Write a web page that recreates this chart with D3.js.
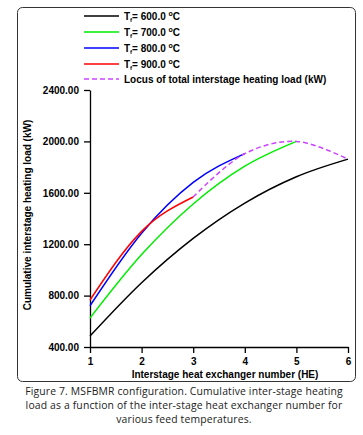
<!DOCTYPE html>
<html>
<head>
<meta charset="utf-8">
<script src="https://cdn.jsdelivr.net/npm/d3@7"></script>
<style>
  body { margin: 0; background: #fff; }
  svg text { font-family: "Liberation Sans", Arial, sans-serif; }
  .tick text { font-weight: bold; font-size: 10px; }
  .caption { font-family: "Open Sans", "Noto Sans", sans-serif; font-size: 10.4px; letter-spacing: 0.15px; fill: #222; }
</style>
</head>
<body>
<svg id="chart" width="363" height="435"></svg>
<script>
// HE numbers on the x axis
const heNumbers = [1, 2, 3, 4, 5, 6];

// Cumulative interstage heating load (kW) for each feed temperature
const load600 = [485, 900, 1245, 1520, 1725, 1862];
const load700 = [625, 1119, 1513, 1807, 2000];
const load800 = [721, 1286, 1681, 1905];
const load900 = [766, 1300, 1567];

// Locus of total load (end point of each series)
const locusHE = [3, 4, 5, 6];
const locusLoad = [1567, 1905, 2000, 1862];

const yTicks = [400, 800, 1200, 1600, 2000, 2400];
const seriesNames = ["600.0", "700.0", "800.0", "900.0"];
const seriesColors = ["#000000", "#00ee00", "#0000ff", "#ff0000"];
const locusColor = "#cc44ff";
const locusName = "Locus of total interstage heating load (kW)";

const svg = d3.select("#chart");

// Frame round the figure
svg.append("rect")
    .attr("x", 17.5).attr("y", 7.5)
    .attr("width", 338).attr("height", 374)
    .attr("rx", 5)
    .attr("fill", "none")
    .attr("stroke", "#333")
    .attr("stroke-width", 1);

// Scales
const x = d3.scaleLinear().domain([1, 6]).range([90, 348]);
const y = d3.scaleLinear().domain([400, 2400]).range([347, 90]);

// Axes
svg.append("g")
    .attr("transform", "translate(0,347)")
    .call(d3.axisBottom(x).tickValues(heNumbers).tickFormat(d3.format("d")).tickSize(6).tickSizeOuter(0))
    .call(g => g.selectAll("line, path").attr("stroke", "#000").attr("stroke-width", 1.3))
    .call(g => g.selectAll("text").attr("fill", "#000").attr("dy", "0.9em"));

svg.append("g")
    .attr("transform", "translate(90,0)")
    .call(d3.axisLeft(y).tickValues(yTicks).tickFormat(d3.format(".2f")).tickSize(6).tickSizeOuter(0))
    .call(g => g.selectAll("line, path").attr("stroke", "#000").attr("stroke-width", 1.3))
    .call(g => g.selectAll("text").attr("fill", "#000").attr("x", -11));

// Axis titles
svg.append("text")
    .attr("x", 225).attr("y", 378)
    .attr("text-anchor", "middle")
    .attr("font-weight", "bold").attr("font-size", 10)
    .text("Interstage heat exchanger number (HE)");

svg.append("text")
    .attr("transform", "translate(31,215) rotate(-90)")
    .attr("text-anchor", "middle")
    .attr("font-weight", "bold").attr("font-size", 10)
    .text("Cumulative interstage heating load (kW)");

// Series lines (smooth, increasing)
const line = d3.line()
    .x(d => x(d[0]))
    .y(d => y(d[1]))
    .curve(d3.curveMonotoneX);

const allSeries = [load600, load700, load800, load900];
allSeries.forEach((vals, i) => {
    const pts = vals.map((v, j) => [heNumbers[j], v]);
    svg.append("path")
        .datum(pts)
        .attr("d", line)
        .attr("fill", "none")
        .attr("stroke", seriesColors[i])
        .attr("stroke-width", 1.5);
});

// Locus (dashed), can bend over its peak
const locusLine = d3.line()
    .x(d => x(d[0]))
    .y(d => y(d[1]))
    .curve(d3.curveCatmullRom.alpha(0.5));

svg.append("path")
    .datum(locusHE.map((h, j) => [h, locusLoad[j]]))
    .attr("d", locusLine)
    .attr("fill", "none")
    .attr("stroke", locusColor)
    .attr("stroke-width", 1.5)
    .attr("stroke-dasharray", "5,3");

// Legend
const legendY = [16, 32, 48, 64, 79];
seriesNames.forEach((name, i) => {
    const ly = legendY[i];
    svg.append("line")
        .attr("x1", 84).attr("x2", 119)
        .attr("y1", ly).attr("y2", ly)
        .attr("stroke", seriesColors[i]).attr("stroke-width", 1.5);
    const t = svg.append("text")
        .attr("x", 124).attr("y", ly + 3.5)
        .attr("font-weight", "bold").attr("font-size", 10);
    t.append("tspan").text("T");
    t.append("tspan").attr("font-size", 6).attr("dy", 2).text("f");
    t.append("tspan").attr("dy", -2).text("= " + name + " ");
    t.append("tspan").attr("font-size", 7).attr("dy", -4).text("o");
    t.append("tspan").attr("dy", 4).text("C");
});
svg.append("line")
    .attr("x1", 84).attr("x2", 119)
    .attr("y1", legendY[4]).attr("y2", legendY[4])
    .attr("stroke", locusColor).attr("stroke-width", 1.5)
    .attr("stroke-dasharray", "5,3");
svg.append("text")
    .attr("x", 124).attr("y", legendY[4] + 3.5)
    .attr("font-weight", "bold").attr("font-size", 10)
    .text(locusName);

// Caption
const caption = [
    "Figure 7. MSFBMR configuration. Cumulative inter-stage heating",
    "load as a function of the inter-stage heat exchanger number for",
    "various feed temperatures."
];
caption.forEach((c, i) => {
    svg.append("text")
        .attr("class", "caption")
        .attr("x", 184).attr("y", 395 + i * 14.2)
        .attr("text-anchor", "middle")
        .text(c);
});
</script>
</body>
</html>
